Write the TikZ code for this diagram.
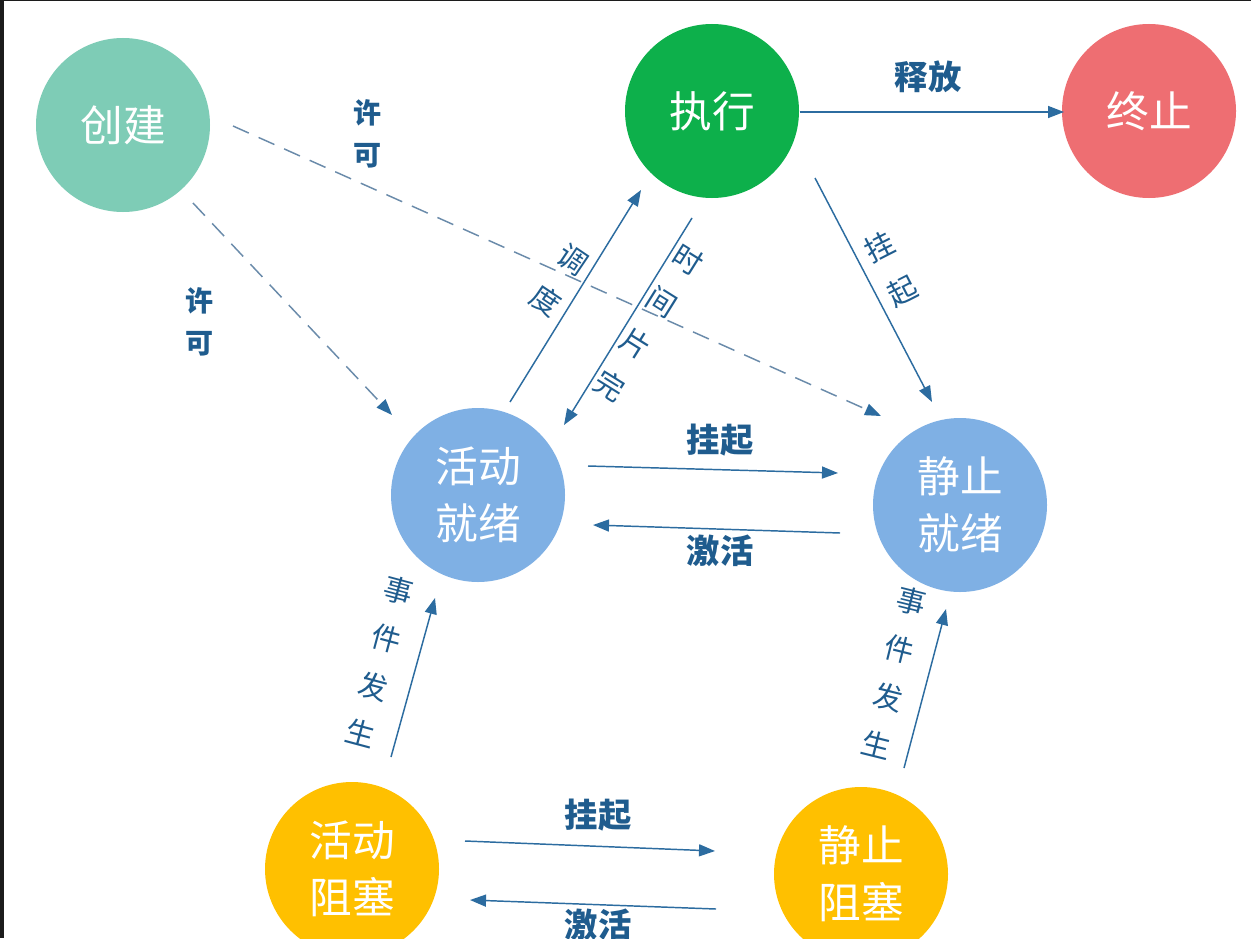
\documentclass[tikz,border=0pt]{standalone}
\usepackage{fontspec}
\newfontfamily\cjk{Noto Sans CJK SC}
\usetikzlibrary{arrows.meta}
\definecolor{arr}{HTML}{2C6CA0}
\definecolor{lbl}{HTML}{1F5C8E}
\definecolor{dsh}{HTML}{6A8BAA}
\definecolor{ccj}{HTML}{7ECCB6}
\definecolor{czx}{HTML}{0DB04B}
\definecolor{czz}{HTML}{EE6E72}
\definecolor{cjx}{HTML}{7FB0E4}
\definecolor{czs}{HTML}{FFC000}
\definecolor{frame}{HTML}{1C1C1C}
\begin{document}
\begin{tikzpicture}[x=0.75pt,y=-0.75pt,
  state/.style={circle,minimum size=130.5pt,inner sep=0pt,text=white,
    font=\cjk\fontsize{32}{43}\selectfont,align=center},
  conn/.style={draw=arr,line width=1.1pt,-{Triangle[length=12pt,width=9pt,color=arr]}},
  dconn/.style={conn,draw=dsh,dash pattern=on 13pt off 8pt},
  hlab/.style={text=lbl,inner sep=0pt,font=\cjk\bfseries\fontsize{25}{30}\selectfont},
  plab/.style={text=lbl,inner sep=0pt,align=center,font=\cjk\bfseries\fontsize{21}{31.5}\selectfont},
  vlab/.style={text=lbl,inner sep=0pt,align=center,font=\cjk\fontsize{22}{37}\selectfont},
]
\useasboundingbox (0,0) rectangle (1251,938);
\clip (0,0) rectangle (1251,938);
\fill[white] (0,0) rectangle (1251,938);
\fill[frame] (0,0) rectangle (4,938);
\fill[frame] (0,0) rectangle (1251,1.5);

% states
\node[state,fill=ccj] (cj) at (123,125) {创建};
\node[state,fill=czx] (zx) at (712,111) {执行};
\node[state,fill=czz] (zz) at (1149,111) {终止};
\node[state,fill=cjx] (hj) at (478,495) {活动\\就绪};
\node[state,fill=cjx] (jj) at (960,505) {静止\\就绪};
\node[state,fill=czs] (hz) at (352,869) {活动\\阻塞};
\node[state,fill=czs] (jz) at (861,874) {静止\\阻塞};

% connector end points
\coordinate (c1s) at (193,203); \coordinate (c1e) at (392,415);
\coordinate (c2s) at (233,126); \coordinate (c2e) at (881,416);
\coordinate (ds) at (510,402);  \coordinate (de) at (641,190);
\coordinate (ts) at (692,218);  \coordinate (te) at (564,425);
\coordinate (fs) at (800,112);  \coordinate (fe) at (1064,112);
\coordinate (gs) at (815,178);  \coordinate (ge) at (932,402);
\coordinate (h1s) at (588,466); \coordinate (h1e) at (838,473);
\coordinate (h2s) at (840,533); \coordinate (h2e) at (593,525);
\coordinate (e1s) at (391,757); \coordinate (e1e) at (435,598);
\coordinate (e2s) at (904,768); \coordinate (e2e) at (946,609);
\coordinate (b1s) at (465,841); \coordinate (b1e) at (715,851);
\coordinate (b2s) at (716,909); \coordinate (b2e) at (470,900);

% connectors
\draw[dconn] (c1s) -- (c1e);
\draw[dconn] (c2s) -- (c2e);
\draw[conn] (ds) -- (de);
\draw[conn] (ts) -- (te);
\draw[conn] (fs) -- (fe);
\draw[conn] (gs) -- (ge);
\draw[conn] (h1s) -- (h1e);
\draw[conn] (h2s) -- (h2e);
\draw[conn] (e1s) -- (e1e);
\draw[conn] (e2s) -- (e2e);
\draw[conn] (b1s) -- (b1e);
\draw[conn] (b2s) -- (b2e);

% labels
\node[plab] (l1) at (367,134) {许\\可};
\node[plab] (l2) at (199,322) {许\\可};
\node[vlab,rotate=-34] (l3) at (559,280) {调\\度};
\node[vlab,rotate=-32] (l4) at (649,323) {时\\间\\片\\完};
\node[vlab,rotate=27] (l5) at (891,269) {挂\\起};
\node[hlab] (l6) at (928,77) {释放};
\node[hlab] (l7) at (720,440) {挂起};
\node[hlab] (l8) at (720,551) {激活};
\node[vlab,rotate=-15] (l9) at (380,662) {事\\件\\发\\生};
\node[vlab,rotate=-14] (l10) at (894,673) {事\\件\\发\\生};
\node[hlab] (l11) at (598,815) {挂起};
\node[hlab] (l12) at (598,925) {激活};
\end{tikzpicture}
\end{document}
